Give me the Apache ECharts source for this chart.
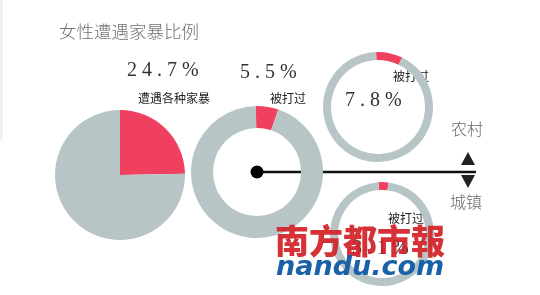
<!DOCTYPE html>
<html><head><meta charset="utf-8">
<script src="https://cdn.jsdelivr.net/npm/echarts@6/dist/echarts.min.js"></script>
<style>html,body{margin:0;padding:0;background:#fff}#c{width:540px;height:295px}</style>
</head><body><div id="c"></div>
<script>
var titleText = '女性遭遇家暴比例';
var pieNames = ['遭遇各种家暴', '被打过', '被打过', '被打过'];
var pieValues = [24.7, 5.5, 7.8, 3.1];
var valueLabels = ['2 4 . 7 %', '5 . 5 %', '7 . 8 %', '3 . 1 %'];
var groupLabels = ['农村', '城镇'];

var RED = '#f0405f', GRAY = '#b8c5c7';
var chart = echarts.init(document.getElementById('c'), null, {renderer: 'canvas'});

var layout = [
  {center: [120, 175], radius: [0, 65], start: 90},
  {center: [257, 172], radius: [44, 66], start: 91},
  {center: [378, 107], radius: [47, 55], start: 92},
  {center: [382, 234], radius: [44, 52], start: 94}
];
var series = pieValues.map(function (v, i) {
  return {
    type: 'pie', silent: true, animation: false,
    center: layout[i].center, radius: layout[i].radius,
    startAngle: layout[i].start, clockwise: true,
    label: {show: false}, labelLine: {show: false},
    data: [
      {name: pieNames[i], value: v, itemStyle: {color: RED}},
      {name: '其他', value: 100 - v, itemStyle: {color: GRAY}}
    ]
  };
});

var serifNum = {fontFamily: 'Liberation Serif', fontSize: 20, fill: '#333'};
var cjkSmall = {fontFamily: 'Noto Sans CJK SC', fontSize: 12, fill: '#222'};

chart.setOption({
  backgroundColor: '#fff',
  series: series,
  graphic: [
    {type: 'line', shape: {x1: 1.5, y1: 0, x2: 1.5, y2: 140}, style: {stroke: '#f3e6ee', lineWidth: 2}},
    {type: 'text', left: 59, top: 23, style: {text: titleText, fontFamily: 'Noto Sans CJK SC', fontWeight: 300, fontSize: 17.5, fill: '#707070'}},
    {type: 'text', left: 127, top: 61, style: Object.assign({text: valueLabels[0]}, serifNum)},
    {type: 'text', left: 138, top: 92, style: Object.assign({text: pieNames[0]}, cjkSmall)},
    {type: 'text', left: 240, top: 63, style: Object.assign({text: valueLabels[1]}, serifNum)},
    {type: 'text', left: 270, top: 92, style: Object.assign({text: pieNames[1]}, cjkSmall)},
    {type: 'text', left: 345, top: 91, style: Object.assign({text: valueLabels[2]}, serifNum)},
    {type: 'text', left: 393, top: 70, style: Object.assign({text: pieNames[2]}, cjkSmall)},
    {type: 'text', left: 388, top: 212, style: Object.assign({text: pieNames[3]}, cjkSmall)},
    {type: 'text', left: 352, top: 239, style: Object.assign({text: valueLabels[3]}, serifNum)},
    {type: 'line', shape: {x1: 257, y1: 172, x2: 476, y2: 172}, style: {stroke: '#111', lineWidth: 2.5}},
    {type: 'circle', shape: {cx: 257, cy: 172, r: 6.5}, style: {fill: '#000'}},
    {type: 'polygon', shape: {points: [[468, 152], [461, 165], [475, 165]]}, style: {fill: '#222'}},
    {type: 'polygon', shape: {points: [[461, 175], [475, 175], [468, 188]]}, style: {fill: '#222'}},
    {type: 'text', left: 451, top: 121, style: {text: groupLabels[0], fontFamily: 'Noto Sans CJK SC', fontWeight: 300, fontSize: 16, fill: '#666'}},
    {type: 'text', left: 450, top: 194, style: {text: groupLabels[1], fontFamily: 'Noto Sans CJK SC', fontWeight: 300, fontSize: 16, fill: '#666'}},
    {type: 'text', left: 275, top: 224, z: 100, style: {text: '南方都市報', fontFamily: 'Noto Sans CJK SC', fontWeight: 900, fontSize: 34, fill: '#d21f26', opacity: 0.92}},
    {type: 'text', left: 276, top: 254, z: 100, style: {text: 'nandu.com', fontFamily: 'DejaVu Sans', fontWeight: 'bold', fontStyle: 'italic', fontSize: 27, fill: '#1a62a8'}}
  ]
});
</script></body></html>
